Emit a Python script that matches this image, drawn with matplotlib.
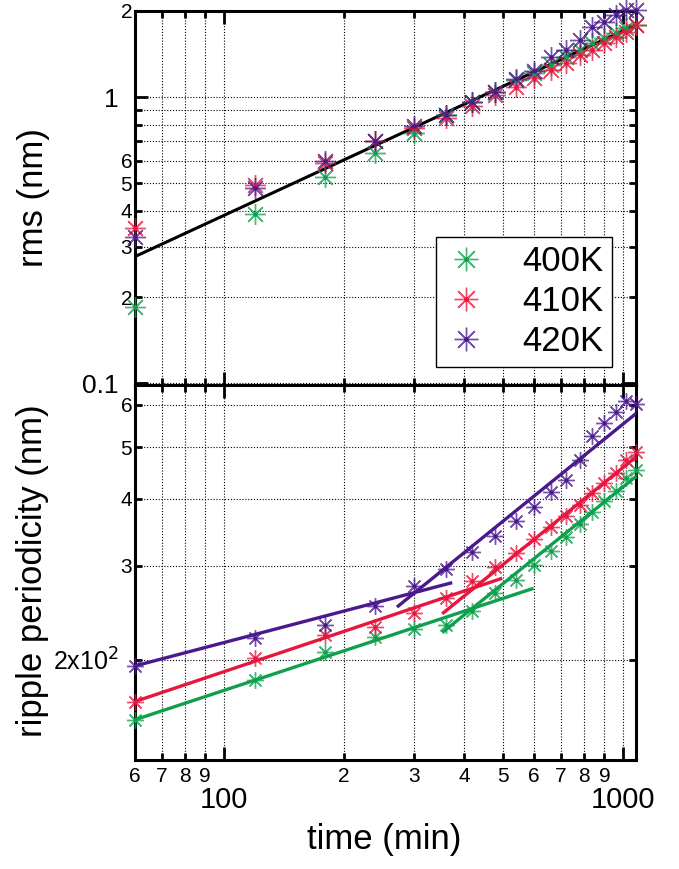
import matplotlib
matplotlib.use("Agg")
import matplotlib.pyplot as plt
from matplotlib.lines import Line2D

plt.rcParams['font.family'] = ['Liberation Sans', 'DejaVu Sans']

# ---------------- data ----------------
time = [60, 120, 180, 240, 300, 360, 420, 480, 540, 600, 660, 720, 780, 840, 900, 960, 1020, 1080]

rms_400 = [0.184, 0.389, 0.526, 0.637, 0.749, 0.868, 0.960, 1.046, 1.150, 1.212, 1.296, 1.386,
           1.462, 1.543, 1.607, 1.672, 1.740, 1.788]
rms_410 = [0.349, 0.494, 0.588, 0.700, 0.780, 0.845, 0.933, 1.018, 1.089, 1.165, 1.245, 1.314,
           1.404, 1.462, 1.543, 1.627, 1.694, 1.788]
rms_420 = [0.324, 0.481, 0.596, 0.700, 0.794, 0.868, 0.965, 1.046, 1.158, 1.238, 1.379, 1.462,
           1.585, 1.754, 1.835, 1.936, 2.016, 2.020]

rms_fit_t = [60, 1080]
rms_fit_v = [0.277, 1.79]

per_400 = [154.6, 183.5, 207.3, 221.1, 228.2, 232.6, 247.3, 266.4, 282.0, 301.0, 319.6, 339.9,
           359.0, 378.4, 396.6, 414.0, 437.0, 452.8]
per_410 = [167.2, 201.5, 222.8, 230.8, 244.6, 260.8, 280.8, 298.8, 317.3, 336.1, 354.9, 371.6,
           389.5, 409.6, 427.7, 446.4, 472.6, 489.8]
per_420 = [194.9, 219.5, 232.6, 251.7, 275.0, 295.3, 318.7, 341.3, 363.6, 386.6, 412.4, 433.7,
           472.6, 524.8, 555.0, 581.9, 610.1, 601.2]

fit400_early_t, fit400_early_v = [60, 598], [154.6, 272.2]
fit400_late_t, fit400_late_v = [353, 1080], [224.9, 440.5]
fit410_early_t, fit410_early_v = [60, 499], [167.2, 284.2]
fit410_late_t, fit410_late_v = [353, 1080], [243.9, 479.0]
fit420_early_t, fit420_early_v = [60, 374], [194.9, 278.9]
fit420_late_t, fit420_late_v = [272, 1080], [251.1, 577.5]

labels = ['400K', '410K', '420K']
colors = ['#0fa04e', '#e5173f', '#4a1a8c']

rms_y_major = [0.1, 1]
rms_y_major_lbl = ['0.1', '1']
rms_y_minor = [0.2, 0.3, 0.4, 0.5, 0.6, 0.7, 0.8, 0.9, 2]
rms_y_minor_lbl = ['2', '3', '4', '5', '6', '', '', '', '2']

per_y_major = [200]
per_y_major_lbl = ['2x10$^{2}$']
per_y_minor = [300, 400, 500, 600]
per_y_minor_lbl = ['3', '4', '5', '6']

x_major = [100, 1000]
x_major_lbl = ['100', '1000']
x_minor = [60, 70, 80, 90, 200, 300, 400, 500, 600, 700, 800, 900]
x_minor_lbl = ['6', '7', '8', '9', '2', '3', '4', '5', '6', '7', '8', '9']

# ---------------- figure ----------------
W, H = 679, 869
fig = plt.figure(figsize=(W / 100, H / 100), dpi=100)
left, right = 135 / W, 636 / W
ax1 = fig.add_axes([left, 1 - 385 / H, right - left, (385 - 11) / H])
ax2 = fig.add_axes([left, 1 - 760 / H, right - left, (760 - 385) / H])

ast = (8, 2, 0)


def plot_pts(ax, t, v, c, ms, dot):
    ax.plot(t, v, linestyle='none', marker=ast, markersize=ms, markeredgewidth=1.0,
            markeredgecolor=c, alpha=0.75, clip_on=False, zorder=4)
    ax.plot(t, v, linestyle='none', marker='o', markersize=dot, markeredgewidth=0,
            markerfacecolor=c, clip_on=False, zorder=5)


for ax in (ax1, ax2):
    ax.set_xscale('log')
    ax.set_yscale('log')
    ax.set_xlim(60, 1080)
    ax.set_axisbelow(True)
    for s in ax.spines.values():
        s.set_linewidth(2.2)

# top panel
ax1.set_ylim(0.0985, 2.0)
ax1.plot(rms_fit_t, rms_fit_v, color='k', linewidth=2.2, zorder=3)
handles = []
for v, c in zip([rms_400, rms_410, rms_420], colors):
    plot_pts(ax1, time, v, c, 15, 3.2)
for lab, c in zip(labels, colors):
    h1 = Line2D([], [], linestyle='none', marker=ast, markersize=17, markeredgewidth=1.0,
                markeredgecolor=c, alpha=0.75)
    h2 = Line2D([], [], linestyle='none', marker='o', markersize=3.5, markeredgewidth=0,
                markerfacecolor=c)
    handles.append((h1, h2))

# bottom panel
ax2.set_ylim(130, 653)
fits = [(fit400_early_t, fit400_early_v, fit400_late_t, fit400_late_v),
        (fit410_early_t, fit410_early_v, fit410_late_t, fit410_late_v),
        (fit420_early_t, fit420_early_v, fit420_late_t, fit420_late_v)]
for (et, ev, lt, lv), v, c in zip(fits, [per_400, per_410, per_420], colors):
    ax2.plot(et, ev, color=c, linewidth=2.4, zorder=3, solid_capstyle='butt')
    ax2.plot(lt, lv, color=c, linewidth=2.4, zorder=3, solid_capstyle='butt')
    plot_pts(ax2, time, v, c, 12, 3.0)

# ticks
for ax in (ax1, ax2):
    ax.set_xticks(x_major)
    ax.set_xticks(x_minor, minor=True)
    ax.tick_params(which='both', direction='in', top=True, right=True, width=2.0, colors='k')
    ax.tick_params(which='major', length=9.5)
    ax.tick_params(which='minor', length=5)
    ax.grid(True, which='both', linestyle=(0, (1, 1.6)), linewidth=0.8, color='k')

ax1.set_xticklabels([])
ax1.set_xticklabels([], minor=True)
ax1.set_yticks(rms_y_major)
ax1.set_yticklabels(rms_y_major_lbl, fontsize=19)
ax1.set_yticks(rms_y_minor, minor=True)
ax1.set_yticklabels(rms_y_minor_lbl, minor=True, fontsize=15)
ax1.tick_params(axis='y', which='major', pad=12)
ax1.tick_params(axis='y', which='minor', pad=2)

ax2.set_yticks(per_y_major)
ax2.set_yticklabels(per_y_major_lbl, fontsize=18)
ax2.set_yticks(per_y_minor, minor=True)
ax2.set_yticklabels(per_y_minor_lbl, minor=True, fontsize=15)
ax2.tick_params(axis='y', which='major', length=5, pad=12)
ax2.tick_params(axis='y', which='minor', pad=2)
ax2.set_xticklabels(x_major_lbl, fontsize=21)
ax2.set_xticklabels(x_minor_lbl, minor=True, fontsize=15)
ax2.tick_params(axis='x', which='major', pad=19)
ax2.tick_params(axis='x', which='minor', pad=5)

leg = ax1.legend(handles, labels, loc='lower right', bbox_to_anchor=(0.953, 0.048),
                 fontsize=25, frameon=True, fancybox=False, framealpha=1, edgecolor='k',
                 handlelength=1.23, handletextpad=1.02, labelspacing=0.2, borderpad=0.25,
                 borderaxespad=0)
leg.get_frame().set_linewidth(1.0)
leg.set_zorder(6)

fig.text(34 / W, 1 - 198 / H, 'rms (nm)', rotation=90, ha='center', va='center', fontsize=25)
fig.text(33 / W, 1 - 571 / H, 'ripple periodicity (nm)', rotation=90, ha='center', va='center',
         fontsize=25)
fig.text(384 / W, 1 - 840 / H, 'time (min)', ha='center', va='center', fontsize=25)

fig.savefig('out.png', dpi=100)
